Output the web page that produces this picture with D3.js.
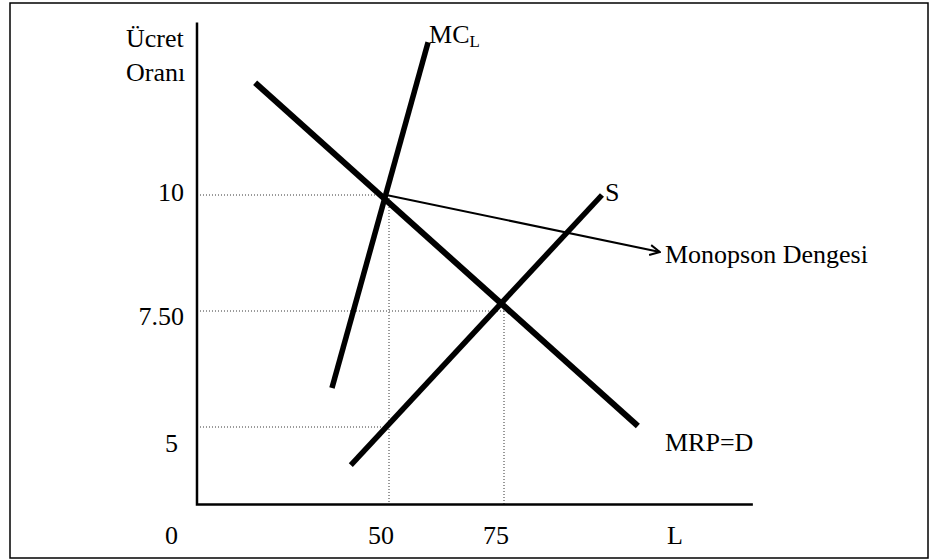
<!DOCTYPE html>
<html><head><meta charset="utf-8">
<script src="https://cdn.jsdelivr.net/npm/d3@7"></script>
<style>body{margin:0;background:#fff}text{font-family:"Liberation Serif","Times New Roman",serif;fill:#000}</style>
</head><body><svg id="c" width="940" height="560"></svg>
<script>
// ---- data (schematic units: L on x, wage rate on y) ----
const xTickValues = [50, 75];
const xTickLabels = ["50", "75"];
const yTickValues = [10, 7.5, 5];
const yTickLabels = ["10", "7.50", "5"];
const mrpCurve = [[20.9, 12.42], [104.1, 5.02]];
const mclCurve = [[37.6, 5.84], [58.5, 13.29]];
const supplyCurve = [[41.7, 4.18], [96.3, 10.0]];
const equilibriumArrow = [[49.4, 10.0], [108.9, 8.77]];
const axisOrigin = [8.26, 3.33];
const axisEnd = [129.1, 13.72];
const guideLines = [ // [x1,y1,x2,y2]
  [8.26, 10, 49.4, 10], [8.26, 7.5, 75, 7.5], [8.26, 5, 50, 5],
  [50, 10, 50, 3.33], [75, 7.5, 75, 3.33]
];

const svg = d3.select("#c");
const x = d3.scaleLinear().domain([50, 75]).range([389, 504]);
const y = d3.scaleLinear().domain([10, 7.5]).range([195, 311]);
const line = d3.line().x(d => x(d[0])).y(d => y(d[1]));

// frame
svg.append("rect").attr("x", 10).attr("y", 3).attr("width", 918).attr("height", 555)
  .attr("fill", "none").attr("stroke", "#000").attr("stroke-width", 1.5);

// guides
svg.selectAll(".g").data(guideLines).join("line")
  .attr("x1", d => x(d[0])).attr("y1", d => y(d[1]))
  .attr("x2", d => x(d[2])).attr("y2", d => y(d[3]))
  .attr("stroke", "#333").attr("stroke-width", 1).attr("stroke-dasharray", "1,2");

// axes
svg.append("path").attr("d", line([[axisOrigin[0], axisEnd[1]], axisOrigin, [axisEnd[0], axisOrigin[1]]]))
  .attr("fill", "none").attr("stroke", "#000").attr("stroke-width", 2.5);

// curves
[[mrpCurve, 6], [mclCurve, 5.5], [supplyCurve, 5.5]].forEach(([c, w]) => {
  svg.append("path").attr("d", line(c)).attr("fill", "none")
    .attr("stroke", "#000").attr("stroke-width", w);
});

// arrow
svg.append("defs").append("marker").attr("id", "ah").attr("viewBox", "0 0 12 12")
  .attr("refX", 11).attr("refY", 6).attr("markerWidth", 12).attr("markerHeight", 12)
  .attr("markerUnits", "userSpaceOnUse").attr("orient", "auto")
  .append("path").attr("d", "M1,1 L11,6 L1,11").attr("fill", "none")
  .attr("stroke", "#000").attr("stroke-width", 2);
svg.append("path").attr("d", line(equilibriumArrow)).attr("fill", "none")
  .attr("stroke", "#000").attr("stroke-width", 2).attr("marker-end", "url(#ah)");

const fs = 26;
// y tick labels
svg.selectAll(".yl").data(yTickValues).join("text")
  .attr("font-size", fs)
  .attr("x", (d, i) => i < 2 ? 184 : 165)
  .attr("text-anchor", (d, i) => i < 2 ? "end" : "start")
  .attr("y", (d, i) => y(d) + [6, 14, 25][i])
  .text((d, i) => yTickLabels[i]);
// x tick labels
svg.selectAll(".xl").data(xTickValues).join("text")
  .attr("font-size", fs).attr("text-anchor", "middle")
  .attr("x", d => x(d) - 8).attr("y", 544)
  .text((d, i) => xTickLabels[i]);
svg.append("text").attr("font-size", fs).attr("x", 165).attr("y", 544).text("0");
svg.append("text").attr("font-size", fs).attr("x", 667).attr("y", 544).text("L");

// axis title
svg.append("text").attr("font-size", fs).attr("x", 126).attr("y", 47).text("Ücret");
svg.append("text").attr("font-size", fs).attr("x", 126).attr("y", 81).text("Oranı");

// curve labels
const mc = svg.append("text").attr("font-size", fs).attr("x", x(mclCurve[1][0]) + 1).attr("y", y(mclCurve[1][1]) + 1);
mc.append("tspan").text("MC");
mc.append("tspan").attr("font-size", fs * 0.65).attr("dy", 4).text("L");
svg.append("text").attr("font-size", fs).attr("x", x(supplyCurve[1][0]) + 3).attr("y", y(supplyCurve[1][1]) + 6).text("S");
svg.append("text").attr("font-size", fs).attr("x", 665).attr("y", 263).text("Monopson Dengesi");
svg.append("text").attr("font-size", fs).attr("x", 665).attr("y", 451).text("MRP=D");
</script></body></html>
